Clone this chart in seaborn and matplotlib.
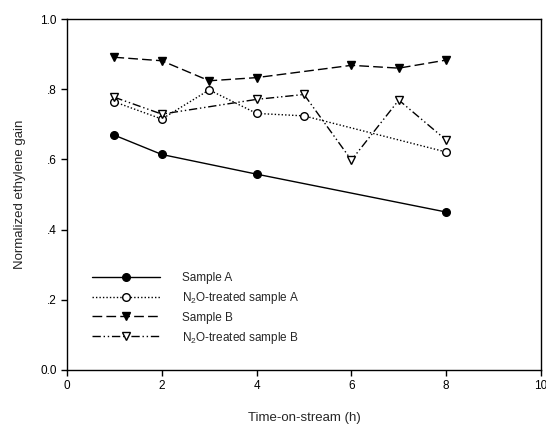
import matplotlib
matplotlib.use("Agg")
import matplotlib.pyplot as plt
import seaborn as sns
import pandas as pd

sns.set_theme(style="ticks")
plt.rcParams['font.family'] = ['Liberation Sans', 'DejaVu Sans']
plt.rcParams['mathtext.fontset'] = 'custom'
plt.rcParams['mathtext.rm'] = 'Liberation Sans'

x_a = [1, 2, 4, 8]
y_a = [0.669, 0.614, 0.558, 0.450]
x_na = [1, 2, 3, 4, 5, 8]
y_na = [0.764, 0.715, 0.798, 0.731, 0.724, 0.621]
x_b = [1, 2, 3, 4, 6, 7, 8]
y_b = [0.891, 0.881, 0.824, 0.833, 0.868, 0.860, 0.883]
x_nb = [1, 2, 4, 5, 6, 7, 8]
y_nb = [0.777, 0.729, 0.771, 0.785, 0.598, 0.769, 0.655]

labels = ["Sample A", "N$_2$O-treated sample A", "Sample B", "N$_2$O-treated sample B"]
xticks = [0, 2, 4, 6, 8, 10]
yticks = [0.0, 0.2, 0.4, 0.6, 0.8, 1.0]
yticklabels = ["0.0", ".2", ".4", ".6", ".8", "1.0"]

fig = plt.figure(figsize=(5.46, 4.24), dpi=100)
ax = fig.add_axes([67/546, 54/424, 474/546, 351/424])

series = [
    (x_a, y_a, labels[0], '-', 'o', 'black'),
    (x_na, y_na, labels[1], (0, (1, 1.5)), 'o', 'white'),
    (x_b, y_b, labels[2], (0, (7, 3)), 'v', 'black'),
    (x_nb, y_nb, labels[3], (0, (6, 2, 1, 2, 1, 2)), 'v', 'white'),
]
for xs, ys, lab, ls, mk, fc in series:
    df = pd.DataFrame({"x": xs, "y": ys})
    sns.lineplot(data=df, x="x", y="y", ax=ax, color="black", linewidth=1.0,
                 linestyle=ls, marker=mk, markersize=5.5, markerfacecolor=fc,
                 markeredgecolor="black", markeredgewidth=1.0, label=lab)

ax.set_xlim(0, 10)
ax.set_ylim(0, 1.0)
ax.set_xticks(xticks)
ax.set_xticklabels([str(t) for t in xticks])
ax.set_yticks(yticks)
ax.set_yticklabels(yticklabels)
ax.tick_params(direction='out', length=4, width=1, labelsize=8.5, colors='black')
for s in ax.spines.values():
    s.set_visible(True)
    s.set_linewidth(1.0)
    s.set_color('black')
ax.set_xlabel("Time-on-stream (h)", fontsize=9.5, labelpad=14)
ax.set_ylabel("Normalized ethylene gain", fontsize=9.5, labelpad=10)

leg = ax.legend(loc='upper left', bbox_to_anchor=(0.03, 0.31), frameon=False,
                fontsize=8.5, handlelength=5.8, labelspacing=0.5, handletextpad=1.8)

fig.savefig("out.png", dpi=100)
